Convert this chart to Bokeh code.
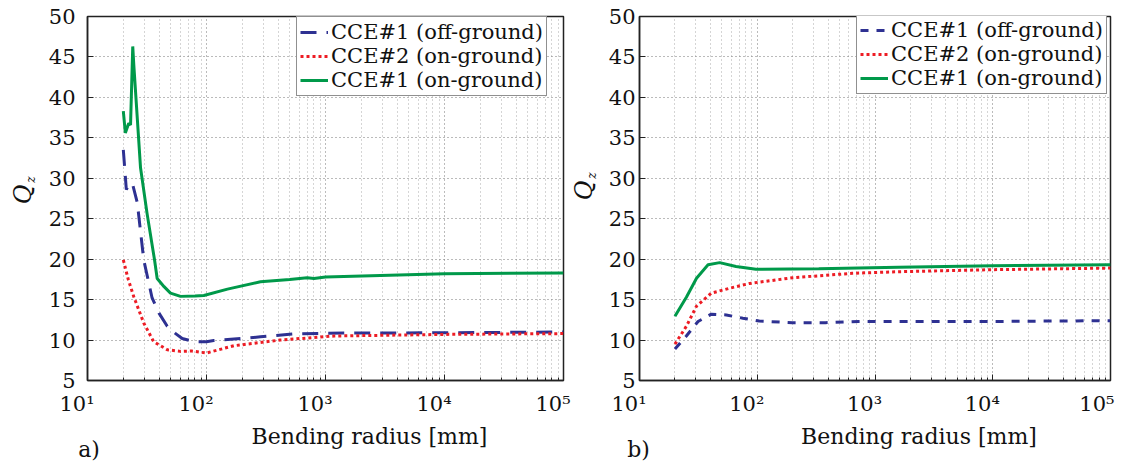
import math
from bokeh.plotting import figure
from bokeh.models import FixedTicker, CustomJSTickFormatter, Label, Legend, LegendItem
from bokeh.layouts import row
from bokeh.embed import file_html
from bokeh.resources import INLINE

# ---------------- data ----------------
series_names = ["CCE#1 (off-ground)", "CCE#2 (on-ground)", "CCE#1 (on-ground)"]
x_ticks = [10, 100, 1000, 10000, 100000]
y_ticks = [5, 10, 15, 20, 25, 30, 35, 40, 45, 50]

# panel a)
a_off1_x = [20, 21.2, 22.5, 24, 26.2, 29.7, 34.9, 40, 46.8, 55, 62.5, 78, 100, 115, 200, 284, 541, 1030, 10000, 100000]
a_off1_y = [33.5, 28.6, 29.4, 29.2, 27.0, 19.9, 15.2, 13.3, 11.7, 10.8, 10.2, 9.8, 9.8, 9.95, 10.2, 10.4, 10.75, 10.85, 10.9, 11.0]
a_on2_x = [20, 22, 24.5, 29.7, 36, 46.8, 60, 75, 89, 100, 170, 416, 1180, 10000, 100000]
a_on2_y = [19.9, 17.5, 15.35, 12.1, 9.8, 8.8, 8.6, 8.65, 8.5, 8.4, 9.3, 10.0, 10.5, 10.7, 10.8]
a_on1_x = [20, 20.8, 22.2, 23.0, 24.0, 24.5, 27.9, 31.7, 36.6, 38.5, 44, 49.8, 60.5, 80, 95, 150, 284, 500, 701, 800, 1000, 10000, 100000]
a_on1_y = [38.3, 35.6, 36.8, 36.6, 46.3, 44.0, 31.3, 25.6, 19.9, 17.6, 16.6, 15.8, 15.4, 15.45, 15.5, 16.3, 17.2, 17.5, 17.7, 17.6, 17.8, 18.2, 18.3]

# panel b)
b_off1_x = [20, 25, 31.4, 40.7, 54.6, 75.5, 104, 199, 380, 728, 1580, 10000, 100000]
b_off1_y = [8.9, 10.5, 12.3, 13.2, 13.1, 12.7, 12.35, 12.15, 12.15, 12.3, 12.3, 12.3, 12.4]
b_on2_x = [20, 25, 30.5, 40.7, 58, 86, 199, 640, 1580, 10000, 100000]
b_on2_y = [9.5, 11.7, 14.2, 15.8, 16.4, 17.0, 17.7, 18.25, 18.45, 18.7, 18.9]
b_on1_x = [20, 25, 30.5, 38.2, 48, 66, 97.5, 333, 1580, 10000, 100000]
b_on1_y = [12.95, 15.3, 17.65, 19.3, 19.57, 19.1, 18.75, 18.8, 19.0, 19.2, 19.3]

x_label = "Bending radius [mm]"

# ---------------- styles ----------------
FONT = "DejaVu Serif"
BLUE, RED, GREEN = "#2e3192", "#ed1c24", "#00994a"
H = 465
EM = "\u2003"
EN = "\u2002"


def make_panel(width, bl, br, bt, bb, data, blue_dash, legend_loc, tag, y_standoff):
    p = figure(width=width, height=H, x_axis_type="log", x_range=(10, 1e5), y_range=(5, 50),
               output_backend="svg", toolbar_location=None,
               min_border_left=bl, min_border_right=br, min_border_top=bt, min_border_bottom=bb)
    p.background_fill_color = "white"
    p.border_fill_color = "white"
    p.outline_line_color = "#222222"
    p.outline_line_width = 1.5

    xa = p.xaxis[0]
    xa.ticker = FixedTicker(ticks=x_ticks,
                            minor_ticks=[m * 10 ** k for k in range(1, 5) for m in range(2, 10)])
    xa.formatter = CustomJSTickFormatter(code="""
        const sup = {1: '\u00b9', 2: '\u00b2', 3: '\u00b3', 4: '\u2074', 5: '\u2075'};
        const e = Math.round(Math.log10(tick));
        return '10' + sup[e] + '\u2003';
    """)
    ya = p.yaxis[0]
    ya.ticker = FixedTicker(ticks=y_ticks, minor_ticks=[])
    for ax in (xa, ya):
        ax.major_label_text_font = FONT
        ax.major_label_text_font_size = "21px"
        ax.major_label_text_color = "#111111"
        ax.axis_line_color = "#222222"
        ax.axis_line_width = 1.5
        ax.major_tick_in = 6
        ax.major_tick_out = 0
        ax.minor_tick_in = 3
        ax.minor_tick_out = 0
        ax.major_tick_line_color = "#222222"
        ax.minor_tick_line_color = "#222222"
    xa.major_label_standoff = 11
    ya.major_label_standoff = y_standoff

    # axis title plus the panel tag on a second, tightly spaced line
    xa.axis_label = EM * 8 + x_label + EM * 4 + "\n" + tag + EM * 21 + EN
    xa.axis_label_text_font = FONT
    xa.axis_label_text_font_size = "22px"
    xa.axis_label_text_font_style = "normal"
    xa.axis_label_text_color = "#111111"
    xa.axis_label_text_line_height = 0.55
    xa.axis_label_standoff = 5

    p.xgrid.grid_line_color = "#777777"
    p.xgrid.grid_line_dash = "1 3"
    p.xgrid.minor_grid_line_color = "#aaaaaa"
    p.xgrid.minor_grid_line_dash = "1 3"
    p.ygrid.grid_line_color = "#777777"
    p.ygrid.grid_line_dash = "1 3"

    (bx, by), (rx, ry), (gx, gy) = data
    rb = p.line(bx, by, color=BLUE, line_width=3, line_dash=blue_dash)
    rr = p.line(rx, ry, color=RED, line_width=3, line_dash="3 3")
    rg = p.line(gx, gy, color=GREEN, line_width=3)

    legend = Legend(items=[LegendItem(label=series_names[0], renderers=[rb]),
                           LegendItem(label=series_names[1], renderers=[rr]),
                           LegendItem(label=series_names[2], renderers=[rg])],
                    location=legend_loc)
    legend.label_text_font = FONT
    legend.label_text_font_size = "21px"
    legend.label_text_color = "#111111"
    legend.label_height = 16
    legend.glyph_height = 16
    legend.glyph_width = 28
    legend.label_standoff = 3
    legend.spacing = 0
    legend.padding = 3
    legend.margin = 0
    legend.border_line_color = "#222222"
    legend.border_line_width = 1.5
    legend.background_fill_alpha = 1.0
    p.add_layout(legend)
    return p


def add_qz(p, side, qx, qy):
    """Y-axis title Q with subscript z, drawn at canvas pixel position (qx, qy)."""
    p.add_layout(Label(x=qx, y=qy, x_units="canvas", y_units="canvas", text="Q",
                       angle=math.pi / 2, text_font=FONT, text_font_style="italic",
                       text_font_size="24px", text_align="center", text_baseline="middle",
                       text_color="#111111"), side)
    p.add_layout(Label(x=qx + 8, y=qy - 15, x_units="canvas", y_units="canvas", text="z",
                       angle=math.pi / 2, text_font=FONT, text_font_style="italic",
                       text_font_size="12px", text_align="center", text_baseline="middle",
                       text_color="#111111"), side)


# left canvas 0..605 (frame 87..563), right canvas 605..1135 (frame 636..1110)
p1 = make_panel(605, 87, 42, 15, 84,
                [(a_off1_x, a_off1_y), (a_on2_x, a_on2_y), (a_on1_x, a_on1_y)],
                "16 10", (209, 284), "a)", 12)
p2 = make_panel(530, 31, 25, 16, 82,
                [(b_off1_x, b_off1_y), (b_on2_x, b_on2_y), (b_on1_x, b_on1_y)],
                "8 8", (217, 286), "b)", 4)

add_qz(p1, "left", 22, 194)
# the y title of panel b) sits in the gap between the two frames, i.e. on the left canvas
add_qz(p1, "right", 583, 190)

layout = row(p1, p2)
open("out.html", "w").write(file_html(layout, INLINE))
